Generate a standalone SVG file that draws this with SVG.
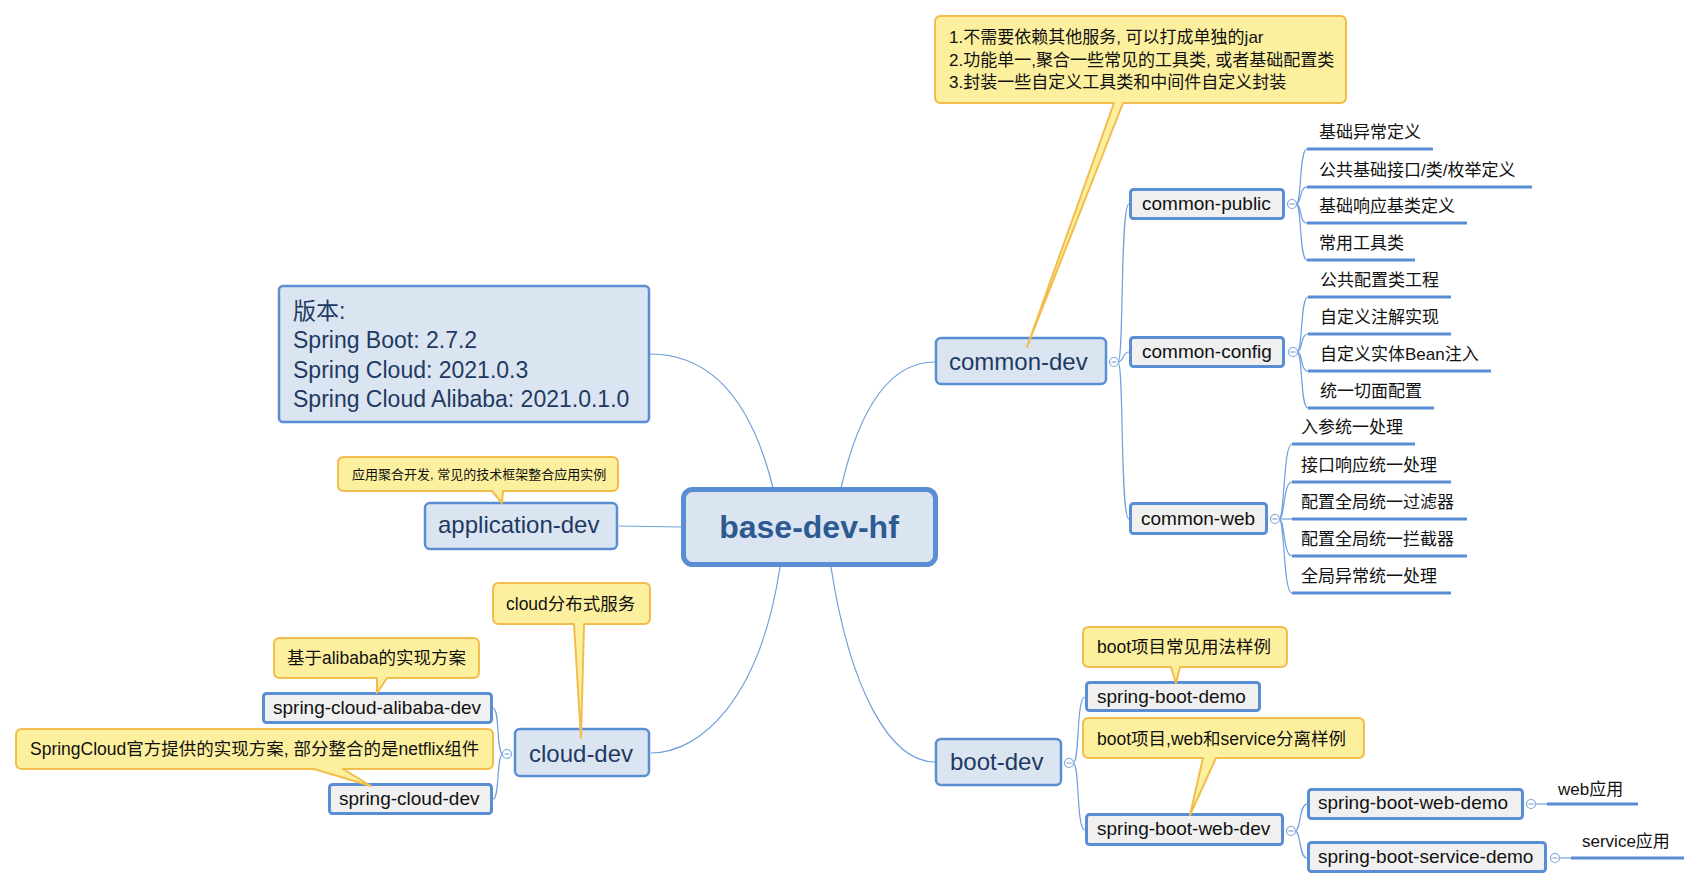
<svg xmlns="http://www.w3.org/2000/svg" width="1702" height="890" viewBox="0 0 1702 890">
<style>
text{font-family:"Liberation Sans","Noto Sans CJK SC",sans-serif;}
.main rect{fill:#dbe5f1;stroke:#5a8ed4;stroke-width:2.5;}
.main text{font-size:24px;fill:#1e3a63;}
.sub rect{fill:#f0f0f0;stroke:#5a8ed4;stroke-width:3;}
.sub text{font-size:19px;fill:#111;}
.call path{fill:#fcf09e;stroke:#f2bd4c;stroke-width:2;stroke-linejoin:round;}
.call text{font-size:17.5px;fill:#111;}
.leaf line{stroke:#5a8ed4;stroke-width:3;}
.leaf text{font-size:17px;fill:#111;}
.con path,.con line{fill:none;stroke:#6f9fdc;stroke-width:1.2;}
.tog circle{fill:#fff;stroke:#7fa8dc;stroke-width:1.2;}
.tog line{stroke:#7fa8dc;stroke-width:1.2;}
</style>
<rect width="1702" height="890" fill="#fff"/>

<g id="connectors" class="con">
<path d="M773,488 Q740,354 650,354"/>
<path d="M841,488 Q870,362 935,362"/>
<line x1="619" y1="526" x2="681" y2="527"/>
<path d="M780,567 C760,700 700,753 651,753"/>
<path d="M831,567 C850,690 890,762 935,762"/>
<path d="M1118,362 C1124,362 1120,204 1129,204"/>
<path d="M1118,362 C1124,362 1122,352 1129,352"/>
<path d="M1118,362 C1124,362 1120,519 1129,519"/>
<path d="M1296,204 C1302,204 1299,149 1307,149"/>
<path d="M1296,204 C1302,204 1299,187 1307,187"/>
<path d="M1296,204 C1302,204 1299,223 1307,223"/>
<path d="M1296,204 C1302,204 1299,260 1307,260"/>
<path d="M1297,352 C1303,352 1300,297 1308,297"/>
<path d="M1297,352 C1303,352 1300,334 1308,334"/>
<path d="M1297,352 C1303,352 1300,371 1308,371"/>
<path d="M1297,352 C1303,352 1300,408 1308,408"/>
<path d="M1279,519 C1285,519 1283,444 1292,444"/>
<path d="M1279,519 C1285,519 1283,482 1292,482"/>
<line x1="1279" y1="519" x2="1292" y2="519"/>
<path d="M1279,519 C1285,519 1283,556 1292,556"/>
<path d="M1279,519 C1285,519 1283,593 1292,593"/>
<path d="M503,754 C496,754 500,708 493,708"/>
<path d="M503,754 C496,754 500,799 493,799"/>
<path d="M1073,763 C1080,763 1076,697 1085,697"/>
<path d="M1073,763 C1080,763 1076,830 1085,830"/>
<path d="M1295,831 C1301,831 1299,804 1307,804"/>
<path d="M1295,831 C1301,831 1299,858 1307,858"/>
<line x1="1535" y1="804" x2="1547" y2="804"/>
<line x1="1559" y1="858" x2="1571" y2="858"/>
</g>

<g id="root">
<rect x="683.5" y="489.5" width="252" height="75" rx="9" fill="#dbe5f1" stroke="#5a8ed4" stroke-width="5"/>
<text x="809" y="538" text-anchor="middle" font-size="32" font-weight="bold" fill="#2d5a92">base-dev-hf</text>
</g>

<g id="version" class="main">
<rect x="279" y="286" width="370" height="136" rx="4"/>
<text x="293" y="319" style="font-size:23px">版本:</text>
<text x="293" y="348" style="font-size:23px">Spring Boot: 2.7.2</text>
<text x="293" y="378" style="font-size:23px">Spring Cloud: 2021.0.3</text>
<text x="293" y="407" style="font-size:23px">Spring Cloud Alibaba: 2021.0.1.0</text>
</g>

<g id="common-dev" class="main">
<rect x="936" y="338" width="170" height="46" rx="5"/>
<text x="949" y="370">common-dev</text>
</g>
<g id="application-dev" class="main">
<rect x="425" y="503" width="192" height="46" rx="5"/>
<text x="438" y="533">application-dev</text>
</g>
<g id="cloud-dev" class="main">
<rect x="515" y="729" width="134" height="47" rx="5"/>
<text x="529" y="762">cloud-dev</text>
</g>
<g id="boot-dev" class="main">
<rect x="936" y="739" width="125" height="46" rx="5"/>
<text x="950" y="770">boot-dev</text>
</g>

<g id="common-public" class="sub">
<rect x="1130.5" y="189.5" width="153" height="29" rx="3"/>
<text x="1142" y="210">common-public</text>
</g>
<g id="common-config" class="sub">
<rect x="1130.5" y="337.5" width="153" height="29" rx="3"/>
<text x="1142" y="358">common-config</text>
</g>
<g id="common-web" class="sub">
<rect x="1130.5" y="503.5" width="136" height="30" rx="3"/>
<text x="1141" y="525">common-web</text>
</g>
<g id="spring-cloud-alibaba-dev" class="sub">
<rect x="263.5" y="693.5" width="228" height="29" rx="3"/>
<text x="273" y="714">spring-cloud-alibaba-dev</text>
</g>
<g id="spring-cloud-dev" class="sub">
<rect x="329.5" y="784.5" width="162" height="29" rx="3"/>
<text x="339" y="805">spring-cloud-dev</text>
</g>
<g id="spring-boot-demo" class="sub">
<rect x="1086.5" y="682.5" width="173" height="28" rx="3"/>
<text x="1097" y="703">spring-boot-demo</text>
</g>
<g id="spring-boot-web-dev" class="sub">
<rect x="1086.5" y="814.5" width="196" height="30" rx="3"/>
<text x="1097" y="835">spring-boot-web-dev</text>
</g>
<g id="spring-boot-web-demo" class="sub">
<rect x="1308.5" y="789.5" width="214" height="29" rx="3"/>
<text x="1318" y="809">spring-boot-web-demo</text>
</g>
<g id="spring-boot-service-demo" class="sub">
<rect x="1308.5" y="842.5" width="237" height="29" rx="3"/>
<text x="1318" y="863">spring-boot-service-demo</text>
</g>

<g id="leaves-public" class="leaf">
<line x1="1307" y1="149" x2="1433" y2="149"/><text x="1319" y="138">基础异常定义</text>
<line x1="1307" y1="187" x2="1532" y2="187"/><text x="1319" y="176">公共基础接口/类/枚举定义</text>
<line x1="1307" y1="223" x2="1467" y2="223"/><text x="1319" y="212">基础响应基类定义</text>
<line x1="1307" y1="260" x2="1415" y2="260"/><text x="1319" y="249">常用工具类</text>
</g>
<g id="leaves-config" class="leaf">
<line x1="1308" y1="297" x2="1451" y2="297"/><text x="1320" y="286">公共配置类工程</text>
<line x1="1308" y1="334" x2="1451" y2="334"/><text x="1320" y="323">自定义注解实现</text>
<line x1="1308" y1="371" x2="1491" y2="371"/><text x="1320" y="360">自定义实体Bean注入</text>
<line x1="1308" y1="408" x2="1434" y2="408"/><text x="1320" y="397">统一切面配置</text>
</g>
<g id="leaves-web" class="leaf">
<line x1="1292" y1="444" x2="1415" y2="444"/><text x="1301" y="433">入参统一处理</text>
<line x1="1292" y1="482" x2="1451" y2="482"/><text x="1301" y="471">接口响应统一处理</text>
<line x1="1292" y1="519" x2="1467" y2="519"/><text x="1301" y="508">配置全局统一过滤器</text>
<line x1="1292" y1="556" x2="1467" y2="556"/><text x="1301" y="545">配置全局统一拦截器</text>
<line x1="1292" y1="593" x2="1451" y2="593"/><text x="1301" y="582">全局异常统一处理</text>
</g>
<g id="leaves-boot" class="leaf">
<line x1="1547" y1="804" x2="1638" y2="804"/><text x="1558" y="795">web应用</text>
<line x1="1571" y1="858" x2="1684" y2="858"/><text x="1582" y="847">service应用</text>
</g>

<g id="toggles" class="tog">
<circle cx="1114" cy="362" r="4.5"/><line x1="1111.5" y1="362" x2="1116.5" y2="362"/>
<circle cx="1292" cy="204" r="4.5"/><line x1="1289.5" y1="204" x2="1294.5" y2="204"/>
<circle cx="1293" cy="352" r="4.5"/><line x1="1290.5" y1="352" x2="1295.5" y2="352"/>
<circle cx="1275" cy="519" r="4.5"/><line x1="1272.5" y1="519" x2="1277.5" y2="519"/>
<circle cx="507" cy="754" r="4.5"/><line x1="504.5" y1="754" x2="509.5" y2="754"/>
<circle cx="1069" cy="763" r="4.5"/><line x1="1066.5" y1="763" x2="1071.5" y2="763"/>
<circle cx="1291" cy="831" r="4.5"/><line x1="1288.5" y1="831" x2="1293.5" y2="831"/>
<circle cx="1531" cy="804" r="4.5"/><line x1="1528.5" y1="804" x2="1533.5" y2="804"/>
<circle cx="1555" cy="858" r="4.5"/><line x1="1552.5" y1="858" x2="1557.5" y2="858"/>
</g>

<g id="note-common" class="call">
<path d="M941,16 H1340 Q1346,16 1346,22 V97 Q1346,103 1340,103 H1123 L1027,347 L1114,103 H941 Q935,103 935,97 V22 Q935,16 941,16 Z"/>
<text x="949" y="43" style="font-size:17px">1.不需要依赖其他服务, 可以打成单独的jar</text>
<text x="949" y="66" style="font-size:17px">2.功能单一,聚合一些常见的工具类, 或者基础配置类</text>
<text x="949" y="88" style="font-size:17px">3.封装一些自定义工具类和中间件自定义封装</text>
</g>
<g id="note-application" class="call">
<path d="M344,457 H612 Q618,457 618,463 V485 Q618,491 612,491 H503 L502,503 L492,491 H344 Q338,491 338,485 V463 Q338,457 344,457 Z"/>
<text x="352" y="479" style="font-size:13px">应用聚合开发, 常见的技术框架整合应用实例</text>
</g>
<g id="note-cloud" class="call">
<path d="M499,583 H644 Q650,583 650,589 V618 Q650,624 644,624 H584 L581,738 L574,624 H499 Q493,624 493,618 V589 Q493,583 499,583 Z"/>
<text x="506" y="610">cloud分布式服务</text>
</g>
<g id="note-alibaba" class="call">
<path d="M280,638 H473 Q479,638 479,644 V672 Q479,678 473,678 H387 L377,693 L377,678 H280 Q274,678 274,672 V644 Q274,638 280,638 Z"/>
<text x="287" y="664">基于alibaba的实现方案</text>
</g>
<g id="note-springcloud" class="call">
<path d="M22,729 H487 Q493,729 493,735 V763 Q493,769 487,769 H343 L371,786 L314,769 H22 Q16,769 16,763 V735 Q16,729 22,729 Z"/>
<text x="30" y="755">SpringCloud官方提供的实现方案, 部分整合的是netflix组件</text>
</g>
<g id="note-boot-demo" class="call">
<path d="M1089,627 H1281 Q1287,627 1287,633 V661 Q1287,667 1281,667 H1180 L1176,683 L1171,667 H1089 Q1083,667 1083,661 V633 Q1083,627 1089,627 Z"/>
<text x="1097" y="653">boot项目常见用法样例</text>
</g>
<g id="note-boot-web" class="call">
<path d="M1089,718 H1358 Q1364,718 1364,724 V752 Q1364,758 1358,758 H1216 L1190,815 L1203,758 H1089 Q1083,758 1083,752 V724 Q1083,718 1089,718 Z"/>
<text x="1097" y="745">boot项目,web和service分离样例</text>
</g>
</svg>
